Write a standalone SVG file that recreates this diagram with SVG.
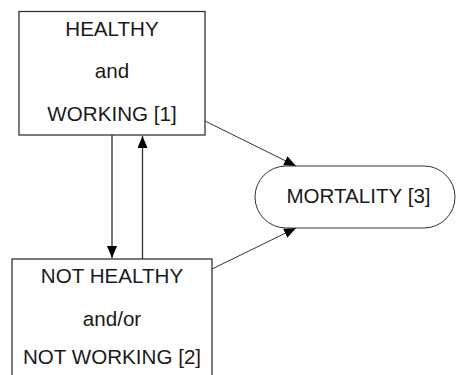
<svg xmlns="http://www.w3.org/2000/svg" width="456" height="375" viewBox="0 0 456 375">
<style>
.box{fill:#fff;stroke:#333;stroke-width:1.3}
.t{font-family:"Liberation Sans",Arial,sans-serif;font-size:20.6px;fill:#1a1a1a;text-anchor:middle}
.c{stroke:#333;stroke-width:1.3;fill:none}
.d{stroke:#333;stroke-width:1;fill:none}
</style>
<defs>
<marker id="ah" markerUnits="userSpaceOnUse" markerWidth="14" markerHeight="12" refX="12" refY="5" orient="auto">
<path d="M0,0 L12,5 L0,10 Z" fill="#000"/>
</marker>
</defs>
<rect width="456" height="375" fill="#fff"/>
<g id="connectors">
<line class="c" x1="112" y1="135" x2="112" y2="258" marker-end="url(#ah)"/>
<line class="c" x1="142.5" y1="259" x2="142.5" y2="136" marker-end="url(#ah)"/>
<line class="d" x1="205" y1="121" x2="296" y2="166" marker-end="url(#ah)"/>
<line class="d" x1="212" y1="269" x2="296" y2="228" marker-end="url(#ah)"/>
</g>
<g id="node1">
<rect class="box" x="19" y="11.5" width="186" height="123.5"/>
<text class="t" x="112" y="36">HEALTHY</text>
<text class="t" x="112" y="78">and</text>
<text class="t" x="112" y="121">WORKING [1]</text>
</g>
<g id="node2">
<rect class="box" x="12" y="259" width="200" height="130"/>
<text class="t" x="112" y="283">NOT HEALTHY</text>
<text class="t" x="112" y="326">and/or</text>
<text class="t" x="112" y="364">NOT WORKING [2]</text>
</g>
<g id="node3">
<rect class="box" x="255" y="166" width="200" height="62" rx="31" ry="31" style="stroke-width:1"/>
<text class="t" x="358.5" y="203">MORTALITY [3]</text>
</g>
</svg>
